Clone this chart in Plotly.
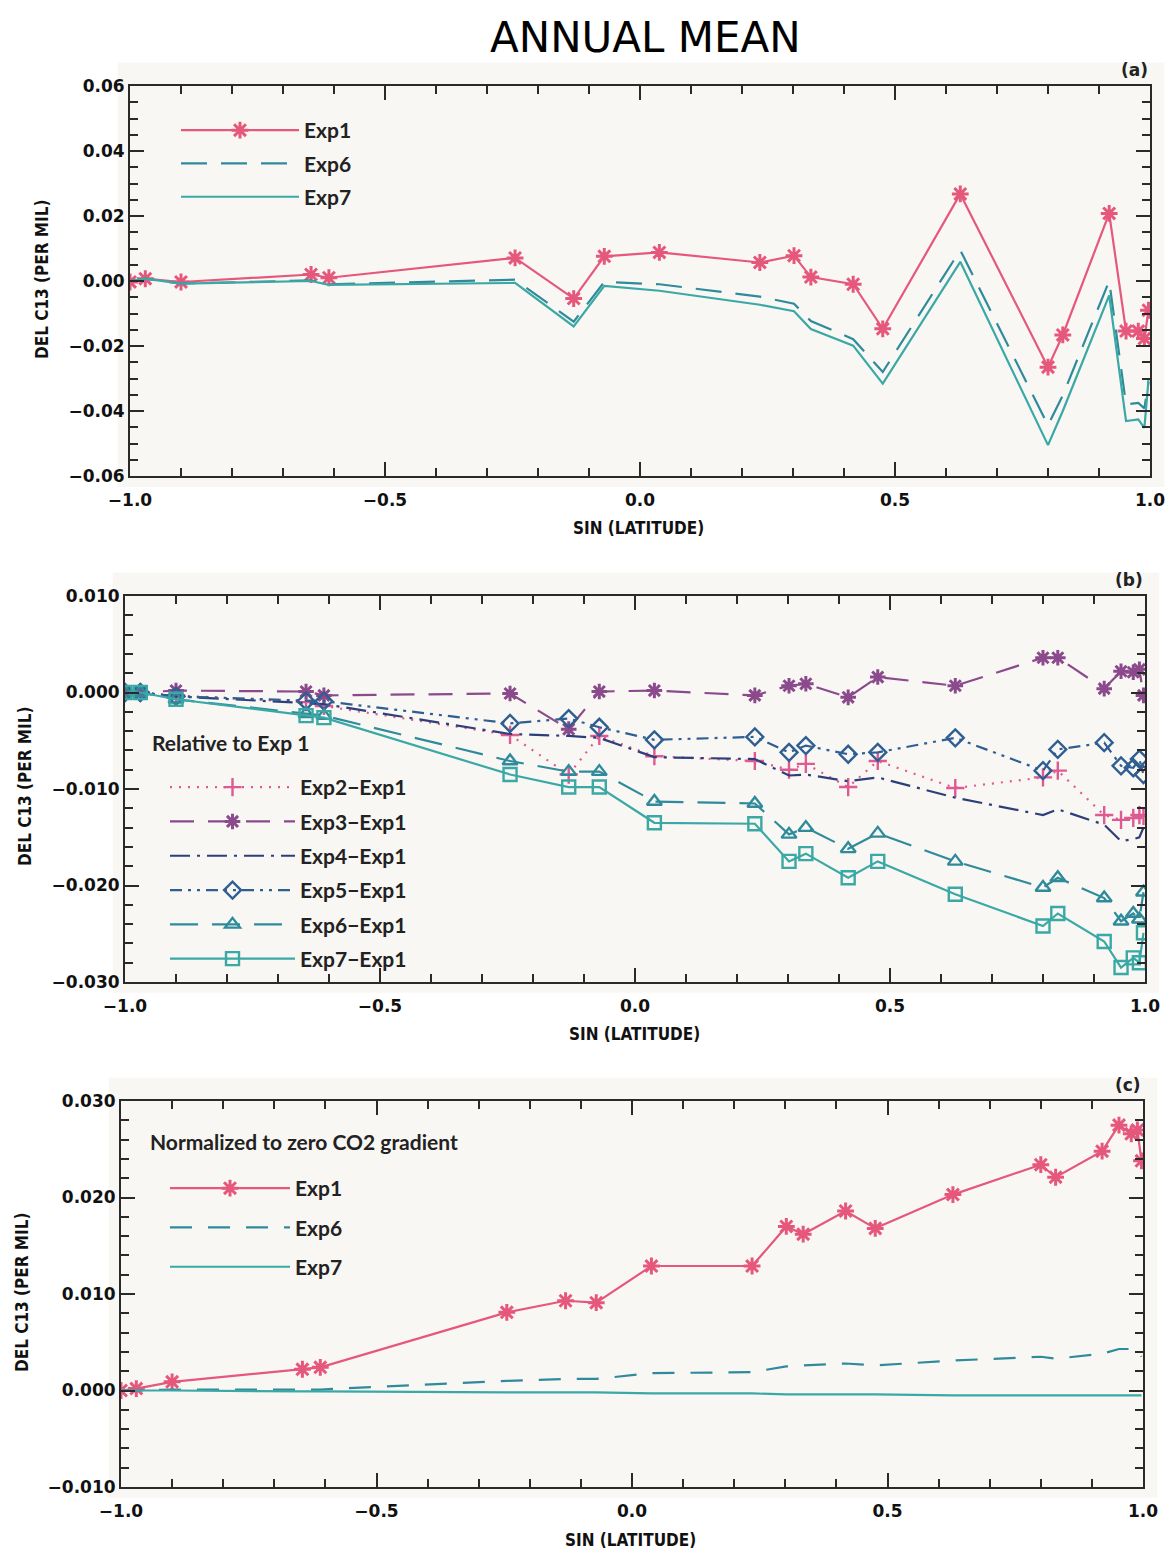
import plotly.graph_objects as go

# ---------------- data ----------------
lat = [-1.0, -0.97, -0.90, -0.645, -0.61, -0.245, -0.13, -0.07, 0.038, 0.235, 0.302,
       0.335, 0.418, 0.476, 0.628, 0.80, 0.829, 0.92, 0.953, 0.977, 0.989, 0.997]

# panel (a) annual mean del C13
a_exp1 = [-0.0003, 0.0007, -0.0003, 0.0020, 0.0010, 0.0071, -0.0054, 0.0076, 0.0088, 0.0057, 0.0078,
          0.0012, -0.0010, -0.0147, 0.0268, -0.0265, -0.0166, 0.0208, -0.0154, -0.0154, -0.0177, -0.0090]
a_exp6 = [0.0, 0.0007, -0.0008, 0.0002, -0.0010, 0.0004, -0.0125, -0.0003, -0.0010, -0.0048, -0.0070,
          -0.0123, -0.0179, -0.0280, 0.0095, -0.0444, -0.0352, 0.0000, -0.0380, -0.0375, -0.0392, -0.0310]
a_exp7 = [0.0, 0.0007, -0.0008, 0.0000, -0.0012, -0.0006, -0.0140, -0.0015, -0.0030, -0.0073, -0.0093,
          -0.0148, -0.0199, -0.0316, 0.0059, -0.0505, -0.0400, -0.0044, -0.0431, -0.0426, -0.0452, -0.0305]

# panel (b) relative to Exp 1
b_exp2 = [0.0, 0.0, -0.0003, -0.0010, -0.0014, -0.0044, -0.0085, -0.0045, -0.0066, -0.0071, -0.0080,
          -0.0074, -0.0098, -0.0071, -0.0099, -0.0088, -0.0081, -0.0127, -0.0132, -0.0130, -0.0127, -0.0128]
b_exp3 = [0.0, 0.0, 0.0002, 0.0001, -0.0003, -0.0001, -0.0038, 0.0001, 0.0002, -0.0003, 0.0007,
          0.0009, -0.0005, 0.0016, 0.0007, 0.0036, 0.0036, 0.0004, 0.0022, 0.0021, 0.0024, -0.0003]
b_exp4 = [0.0, 0.0, -0.0004, -0.0011, -0.0012, -0.0043, -0.0045, -0.0047, -0.0067, -0.0069, -0.0086,
          -0.0085, -0.0092, -0.0088, -0.0109, -0.0127, -0.0121, -0.0137, -0.0154, -0.0152, -0.0150, -0.0140]
b_exp5 = [0.0, 0.0, -0.0004, -0.0009, -0.0009, -0.0032, -0.0027, -0.0036, -0.0049, -0.0046, -0.0062,
          -0.0055, -0.0064, -0.0062, -0.0047, -0.0081, -0.0059, -0.0052, -0.0076, -0.0078, -0.0069, -0.0085]
b_exp6 = [0.0, 0.0, -0.0007, -0.0022, -0.0024, -0.0071, -0.0082, -0.0082, -0.0113, -0.0115, -0.0147,
          -0.0140, -0.0162, -0.0146, -0.0175, -0.0202, -0.0192, -0.0213, -0.0237, -0.0229, -0.0235, -0.0207]
b_exp7 = [0.0, 0.0, -0.0007, -0.0024, -0.0026, -0.0085, -0.0098, -0.0098, -0.0135, -0.0136, -0.0175,
          -0.0167, -0.0192, -0.0175, -0.0209, -0.0242, -0.0229, -0.0258, -0.0285, -0.0275, -0.0280, -0.0249]

# panel (c) normalized to zero CO2 gradient
c_exp1 = [0.0, 0.0002, 0.0009, 0.0022, 0.0024, 0.0081, 0.0093, 0.0091, 0.0129, 0.0129, 0.0170,
          0.0162, 0.0186, 0.0168, 0.0203, 0.0234, 0.0221, 0.0248, 0.0275, 0.0266, 0.0270, 0.0238]
c_exp6 = [0.0, 0.0, 0.0001, 0.0001, 0.0001, 0.0010, 0.0012, 0.0012, 0.0018, 0.0019, 0.0025,
          0.0026, 0.0028, 0.0026, 0.0031, 0.0035, 0.0033, 0.0038, 0.0043, 0.0043, 0.0042, 0.0035]
c_exp7 = [0.0, 0.0, 0.0, -0.0001, -0.0001, -0.0002, -0.0002, -0.0002, -0.0003, -0.0003, -0.0004,
          -0.0004, -0.0004, -0.0004, -0.0005, -0.0005, -0.0005, -0.0005, -0.0005, -0.0005, -0.0005, -0.0005]

# ---------------- style ----------------
W, H = 1169, 1552
PINK = '#e6577c'
PINK2 = '#de5a92'
PURPLE = '#8a4a8c'
NAVY = '#2d3f7a'
BLUE5 = '#2f5e92'
TEAL6 = '#2f8b9b'
TEAL7 = '#3aa8a5'
CREAM = '#f9f7f3'
AXC = '#2a2a2a'
TICKFONT = dict(family='DejaVu Sans', size=17, color='#111', weight='bold')
LEGFONT = dict(family='Lato', size=21, color='#222', weight='bold')
AXTITLEFONT = dict(family='DejaVu Sans Condensed', size=17, color='#111', weight='bold')


def px_dom_x(a, b):
    return [a / W, b / W]


def px_dom_y(top, bottom):
    return [1 - bottom / H, 1 - top / H]


panels = {
    'a': dict(x=px_dom_x(130, 1150), y=px_dom_y(86, 476), rng=[-0.06, 0.06], dt=0.02, mdt=0.005, fmt='.2f'),
    'b': dict(x=px_dom_x(125, 1145), y=px_dom_y(596, 982), rng=[-0.030, 0.010], dt=0.010, mdt=0.002, fmt='.3f'),
    'c': dict(x=px_dom_x(121, 1143), y=px_dom_y(1101, 1487), rng=[-0.010, 0.030], dt=0.010, mdt=0.002, fmt='.3f'),
}

fig = go.Figure()


def add(x, y, name, color, dash, symbol, xa, ya, legend, width=2.2, msize=13, mlw=2.4):
    mode = 'lines+markers' if symbol else 'lines'
    marker = dict(symbol=symbol, size=msize, color=color, line=dict(color=color, width=mlw)) if symbol else None
    fig.add_trace(go.Scatter(x=x, y=y, name=name, mode=mode, xaxis=xa, yaxis=ya,
                             line=dict(color=color, width=width, dash=dash),
                             marker=marker, legend=legend, legendgroup=name + legend))


# panel a
add(lat, a_exp1, 'Exp1', PINK, 'solid', 'asterisk-open', 'x', 'y', 'legend', msize=14, mlw=3)
add(lat, a_exp6, 'Exp6', TEAL6, '26px,14px', None, 'x', 'y', 'legend')
add(lat, a_exp7, 'Exp7', TEAL7, 'solid', None, 'x', 'y', 'legend')

# panel b
add(lat, b_exp2, 'Exp2\u2212Exp1', PINK2, '2px,7px', 'cross-thin-open', 'x2', 'y2', 'legend2')
add(lat, b_exp3, 'Exp3\u2212Exp1', PURPLE, '24px,14px', 'asterisk-open', 'x2', 'y2', 'legend2', mlw=3)
add(lat, b_exp4, 'Exp4\u2212Exp1', NAVY, '20px,7px,3px,7px', None, 'x2', 'y2', 'legend2')
add(lat, b_exp5, 'Exp5\u2212Exp1', BLUE5, '12px,6px,3px,6px,3px,6px', 'diamond-open', 'x2', 'y2', 'legend2')
add(lat, b_exp6, 'Exp6\u2212Exp1', TEAL6, '28px,14px', 'triangle-up-open', 'x2', 'y2', 'legend2')
add(lat, b_exp7, 'Exp7\u2212Exp1', TEAL7, 'solid', 'square-open', 'x2', 'y2', 'legend2')

# panel c
add(lat, c_exp1, 'Exp1', PINK, 'solid', 'asterisk-open', 'x3', 'y3', 'legend3', msize=14, mlw=3)
add(lat, c_exp6, 'Exp6', TEAL6, '22px,16px', None, 'x3', 'y3', 'legend3')
add(lat, c_exp7, 'Exp7', TEAL7, 'solid', None, 'x3', 'y3', 'legend3')


def xaxis(p, anchor):
    return dict(domain=p['x'], anchor=anchor, range=[-1, 1], tick0=-1, dtick=0.5, tickformat='.1f',
                ticks='inside', ticklen=14, tickwidth=2, tickcolor=AXC, ticklabelstandoff=8,
                showline=True, linewidth=2, linecolor=AXC, mirror='ticks', automargin=False,
                showgrid=False, zeroline=False, tickfont=TICKFONT,
                minor=dict(dtick=0.1, tick0=0, ticks='inside', ticklen=8, tickwidth=1.5, tickcolor=AXC))


def yaxis(p, anchor):
    return dict(domain=p['y'], anchor=anchor, range=p['rng'], dtick=p['dt'], tick0=0, tickformat=p['fmt'],
                ticks='inside', ticklen=14, tickwidth=2, tickcolor=AXC,
                showline=True, linewidth=2, linecolor=AXC, mirror='ticks', automargin=False,
                showgrid=False, zeroline=False, tickfont=TICKFONT,
                minor=dict(dtick=p['mdt'], tick0=0, ticks='inside', ticklen=8, tickwidth=1.5, tickcolor=AXC))


shapes = []
annotations = []
# axis title pixel centres: (x title centre x, y), (y title x, centre y)
xt_pos = {'a': (638, 528), 'b': (634, 1034), 'c': (630, 1540)}
yt_pos = {'a': (42, 280), 'b': (25, 787), 'c': (22, 1293)}
for i, key in enumerate(['a', 'b', 'c']):
    p = panels[key]
    xs = '' if i == 0 else str(i + 1)
    shapes.append(dict(type='rect', xref='x%s domain' % xs, yref='y%s domain' % xs,
                       x0=-0.012, x1=1.014, y0=-0.028, y1=1.06, fillcolor=CREAM,
                       line=dict(width=0), layer='below'))
    annotations.append(dict(text='(%s)' % key, xref='x%s domain' % xs, yref='y%s domain' % xs,
                            x=1.0, y=1.01, xanchor='right', yanchor='bottom', showarrow=False,
                            font=dict(family='DejaVu Sans', size=17, color='#222', weight='bold')))
    annotations.append(dict(text='SIN (LATITUDE)', xref='paper', yref='paper',
                            x=xt_pos[key][0] / W, y=1 - xt_pos[key][1] / H, xanchor='center',
                            yanchor='middle', showarrow=False, font=AXTITLEFONT))
    annotations.append(dict(text='DEL C13 (PER MIL)', xref='paper', yref='paper', textangle=-90,
                            x=yt_pos[key][0] / W, y=1 - yt_pos[key][1] / H, xanchor='center',
                            yanchor='middle', showarrow=False, font=AXTITLEFONT))

annotations.append(dict(text='ANNUAL MEAN', xref='paper', yref='paper', x=645 / W, y=1 - 37 / H,
                        xanchor='center', yanchor='middle', showarrow=False,
                        font=dict(family='DejaVu Sans', size=42, color='#000')))
annotations.append(dict(text='Relative to Exp 1', xref='paper', yref='paper', x=150 / W, y=1 - 742 / H,
                        xanchor='left', yanchor='middle', showarrow=False, font=LEGFONT))
annotations.append(dict(text='Normalized to zero CO2 gradient', xref='paper', yref='paper',
                        x=148 / W, y=1 - 1141 / H, xanchor='left', yanchor='middle', showarrow=False,
                        font=LEGFONT))

leg_common = dict(xref='paper', yref='paper', xanchor='left', yanchor='top', bgcolor='rgba(0,0,0,0)',
                  font=LEGFONT, traceorder='grouped', itemclick=False)

fig.update_layout(
    width=W, height=H, margin=dict(l=0, r=0, t=0, b=0),
    paper_bgcolor='white', plot_bgcolor=CREAM,
    xaxis=xaxis(panels['a'], 'y'), yaxis=yaxis(panels['a'], 'x'),
    xaxis2=xaxis(panels['b'], 'y2'), yaxis2=yaxis(panels['b'], 'x2'),
    xaxis3=xaxis(panels['c'], 'y3'), yaxis3=yaxis(panels['c'], 'x3'),
    shapes=shapes, annotations=annotations,
    legend=dict(x=176 / W, y=1 - 110 / H, tracegroupgap=3, itemwidth=118, **leg_common),
    legend2=dict(x=165 / W, y=1 - 767 / H, tracegroupgap=4, itemwidth=125, **leg_common),
    legend3=dict(x=165 / W, y=1 - 1168 / H, tracegroupgap=9, itemwidth=120, **leg_common),
)

fig.write_html('out.html')
